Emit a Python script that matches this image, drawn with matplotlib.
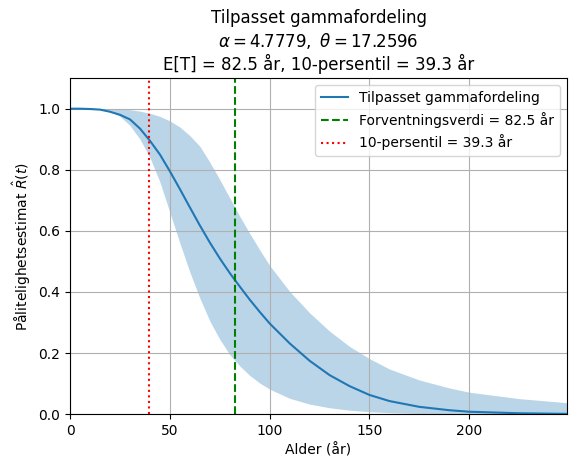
import matplotlib
matplotlib.use("Agg")
import matplotlib.pyplot as plt

t = [0, 5, 10, 15, 20, 25, 30, 35, 40, 45, 50, 55, 60, 65, 70, 75, 80, 85, 90, 95, 100, 110, 120, 130, 140, 150, 160, 175, 190, 200, 225, 250]
R = [1.0, 1.0, 0.999, 0.997, 0.99, 0.98, 0.965, 0.935, 0.895, 0.85, 0.795, 0.737, 0.677, 0.618, 0.562, 0.51, 0.462, 0.418, 0.375, 0.335, 0.297, 0.232, 0.175, 0.128, 0.092, 0.063, 0.043, 0.024, 0.013, 0.008, 0.003, 0.001]
upper = [1.0, 1.0, 1.0, 1.0, 1.0, 0.999, 0.997, 0.992, 0.985, 0.975, 0.96, 0.94, 0.912, 0.877, 0.825, 0.768, 0.708, 0.648, 0.592, 0.538, 0.487, 0.402, 0.332, 0.272, 0.222, 0.182, 0.148, 0.112, 0.086, 0.072, 0.051, 0.037]
lower = [1.0, 1.0, 1.0, 0.997, 0.99, 0.975, 0.945, 0.9, 0.84, 0.76, 0.66, 0.56, 0.465, 0.38, 0.305, 0.245, 0.195, 0.158, 0.127, 0.102, 0.082, 0.052, 0.033, 0.021, 0.013, 0.008, 0.005, 0.002, 0.001, 0.0, 0.0, 0.0]
mean_val = 82.5
p10 = 39.3

fig, ax = plt.subplots(figsize=(5.75, 4.68), dpi=100)
fig.subplots_adjust(left=0.122, right=0.986, top=0.833, bottom=0.115)
ax.fill_between(t, lower, upper, color="#1f77b4", alpha=0.3, linewidth=0)
ax.plot(t, R, color="#1f77b4", label="Tilpasset gammafordeling")
ax.axvline(mean_val, color="green", linestyle="--", label=f"Forventningsverdi = {mean_val} år")
ax.axvline(p10, color="red", linestyle=":", label=f"10-persentil = {p10} år")
ax.set_xlim(0, 249)
ax.set_ylim(0, 1.1)
ax.grid(True)
ax.set_xlabel("Alder (år)")
ax.set_ylabel(r"Pålitelighetsestimat $\hat{R}(t)$")
ax.set_title("Tilpasset gammafordeling\n" + r"$\alpha = 4.7779,\ \theta = 17.2596$" + "\nE[T] = 82.5 år, 10-persentil = 39.3 år")
ax.legend(loc="upper right")
fig.savefig("out.png")
